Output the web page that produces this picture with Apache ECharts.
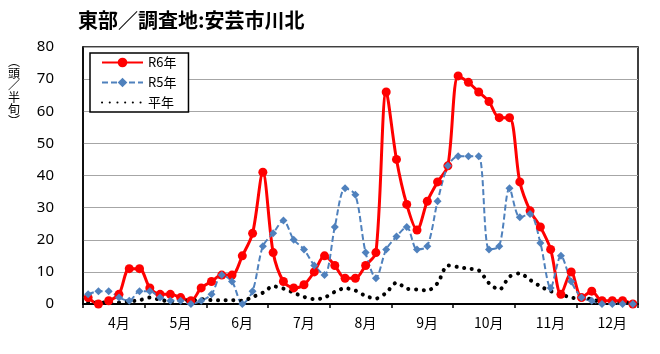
<!DOCTYPE html>
<html>
<head>
<meta charset="utf-8">
<script src="https://cdn.jsdelivr.net/npm/echarts@6/dist/echarts.min.js"></script>
<style>
  html, body { margin: 0; padding: 0; background: #fff; }
  #chart { width: 660px; height: 354px; }
</style>
</head>
<body>
<div id="chart"></div>
<script>
// 月（各月6半旬）
const months = ['4月', '5月', '6月', '7月', '8月', '9月', '10月', '11月', '12月'];
const periods = [];
months.forEach(m => { for (let k = 1; k <= 6; k++) periods.push(m + k); });

// 誘殺数（頭／半旬）
const r6 = [2, 0, 1, 3, 11, 11, 5, 3, 3, 2, 1, 5, 7, 9, 9, 15, 22, 41,
  16, 7, 5, 6, 10, 15, 12, 8, 8, 12, 16, 66, 45, 31, 23, 32, 38, 43,
  71, 69, 66, 63, 58, 58, 38, 29, 24, 17, 3, 10, 2, 4, 1, 1, 1, 0];
const r5 = [3, 4, 4, 2, 1, 4, 4, 2, 1, 1, 0, 1, 3, 9, 7, 0, 4, 18,
  22, 26, 20, 17, 12, 9, 24, 36, 34, 16, 8, 17, 21, 24, 17, 18, 32, 43,
  46, 46, 46, 17, 18, 36, 27, 28, 19, 5, 15, 7, 2, 1, 0, 0, 0, 0];
const avg = [0.5, 0.5, 0.5, 0.5, 0.8, 1.2, 2, 1.3, 0.8, 1.2, 1, 1.5, 1.2, 1.2, 1.2, 1, 2.2, 3.5,
  5.5, 4.8, 3.5, 2.2, 1.5, 2, 3.8, 4.9, 4.2, 2.5, 1.7, 3.5, 6.6, 4.8, 4.5, 4.2, 6.5, 12,
  11.5, 11, 10.5, 6.5, 4.5, 8.5, 9.5, 7.5, 5.5, 4, 3, 2, 1.7, 1.5, 0.5, 0.3, 0.3, 0.3];

const jpFont = '"Noto Sans CJK JP", "Noto Sans", sans-serif';

const myChart = echarts.init(document.getElementById('chart'));

const option = {
  animation: false,
  title: {
    text: '東部／調査地:安芸市川北',
    left: 73,
    top: 5,
    textStyle: { fontSize: 20, fontWeight: 'bold', color: '#000', fontFamily: jpFont }
  },
  // 縦書きの軸名
  graphic: [{
    type: 'text',
    left: 8,
    top: 55,
    style: {
      text: '︵\n頭\n／\n半\n旬\n︶',
      fontSize: 12,
      lineHeight: 12,
      fill: '#000',
      fontFamily: jpFont,
      align: 'center'
    }
  }],
  legend: {
    orient: 'vertical',
    left: 90,
    top: 53,
    padding: [3, 12, 3, 11],
    itemWidth: 41,
    itemHeight: 12,
    itemGap: 7,
    borderColor: '#000',
    borderWidth: 1.5,
    backgroundColor: '#fff',
    textStyle: { fontSize: 13, color: '#000', fontFamily: jpFont },
    data: ['R6年', 'R5年', { name: '平年', itemStyle: { opacity: 0 } }]
  },
  grid: {
    left: 83,
    right: 22,
    top: 47,
    bottom: 50,
    show: true,
    borderColor: '#000',
    borderWidth: 1.5
  },
  xAxis: [
    {
      type: 'category',
      data: periods,
      boundaryGap: true,
      axisLine: { lineStyle: { color: '#000', width: 2 } },
      axisTick: { show: false },
      axisLabel: { show: false }
    },
    {
      type: 'category',
      data: months,
      boundaryGap: true,
      position: 'bottom',
      axisLine: { show: false },
      axisTick: { show: true, length: 4, lineStyle: { color: '#000', width: 1.5 } },
      axisLabel: {
        fontSize: 14,
        color: '#000',
        margin: 12,
        padding: [0, 0, 0, 10],
        fontFamily: jpFont
      }
    }
  ],
  yAxis: {
    type: 'value',
    min: 0,
    max: 80,
    interval: 10,
    axisLine: { show: true, lineStyle: { color: '#000', width: 1.5 } },
    axisTick: { show: false },
    splitLine: { lineStyle: { color: '#A6A6A6', width: 1.2 } },
    axisLabel: { fontSize: 15, color: '#000', margin: 29, fontFamily: '"Noto Sans", sans-serif' }
  },
  series: [
    {
      name: 'R6年',
      type: 'line',
      xAxisIndex: 0,
      data: r6,
      smooth: 0.3,
      symbol: 'circle',
      symbolSize: 9,
      showSymbol: true,
      showAllSymbol: true,
      color: '#FF0000',
      lineStyle: { width: 3, color: '#FF0000' },
      itemStyle: { color: '#FF0000' }
    },
    {
      name: 'R5年',
      type: 'line',
      xAxisIndex: 0,
      data: r5,
      smooth: 0.3,
      symbol: 'diamond',
      symbolSize: 8,
      showSymbol: true,
      showAllSymbol: true,
      color: '#4F81BD',
      lineStyle: { width: 2, color: '#4F81BD', type: [6, 3] },
      itemStyle: { color: '#4F81BD' }
    },
    {
      name: '平年',
      type: 'line',
      xAxisIndex: 0,
      data: avg,
      smooth: 0.3,
      symbol: 'none',
      color: '#000',
      lineStyle: { width: 4, color: '#000', type: [0.1, 7.6], cap: 'round' }
    }
  ]
};

myChart.setOption(option);
</script>
</body>
</html>
